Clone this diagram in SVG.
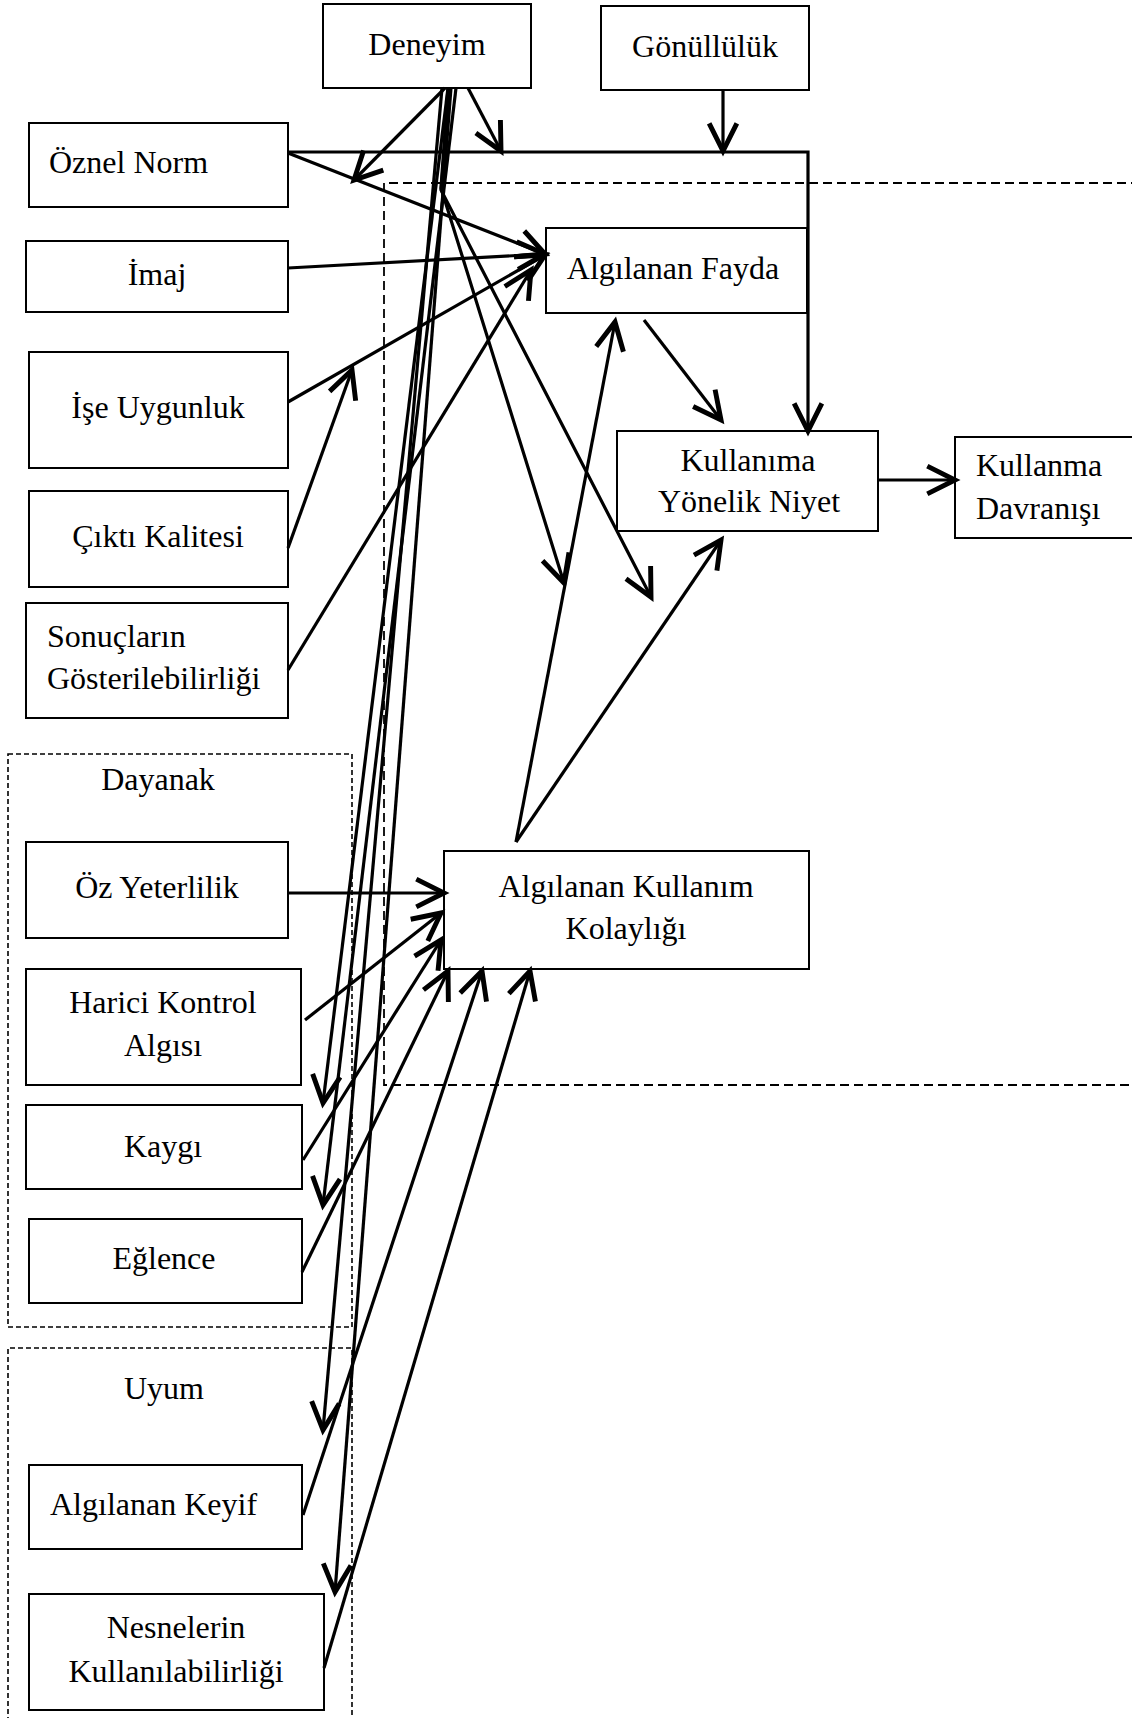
<svg xmlns="http://www.w3.org/2000/svg" width="1132" height="1718" viewBox="0 0 1132 1718">
  <style>
    .box { fill: #fff; stroke: #000; stroke-width: 2; }
    .grp { fill: none; stroke: #000; stroke-width: 1.6; stroke-dasharray: 5 3; }
    .frame { fill: none; stroke: #000; stroke-width: 1.8; stroke-dasharray: 9 5; }
    .lbl { font-family: "Liberation Serif", "Times New Roman", serif; font-size: 32px; fill: #000; }
    .c { text-anchor: middle; }
    .edge { fill: none; stroke: #000; stroke-width: 3.2; marker-end: url(#arr); }
  </style>
  <defs>
    <marker id="arr" markerUnits="userSpaceOnUse" markerWidth="40" markerHeight="40" viewBox="-22 -12 26 24" refX="0" refY="0" orient="auto" overflow="visible">
      <path d="M-18,-9 L0,0 L-18,9" fill="none" stroke="#000" stroke-width="3.2" stroke-linejoin="miter"/>
    </marker>
  </defs>
  <rect width="1132" height="1718" fill="#fff"/>

  <!-- dashed frames -->
  <path class="frame" d="M1140,183 H384 V1085 H1140"/>
  <rect class="grp" x="8" y="754" width="344" height="573"/>
  <path class="grp" d="M8,1730 V1348 H352 V1730"/>

  <!-- nodes -->
  <g id="deneyim"><rect class="box" x="323" y="4" width="208" height="84"/><text class="lbl c" x="427" y="55">Deneyim</text></g>
  <g id="gonulluluk"><rect class="box" x="601" y="6" width="208" height="84"/><text class="lbl c" x="705" y="57">Gönüllülük</text></g>
  <g id="oznel-norm"><rect class="box" x="29" y="123" width="259" height="84"/><text class="lbl" x="49" y="173">Öznel Norm</text></g>
  <g id="imaj"><rect class="box" x="26" y="241" width="262" height="71"/><text class="lbl c" x="157" y="285">İmaj</text></g>
  <g id="ise-uygunluk"><rect class="box" x="29" y="352" width="259" height="116"/><text class="lbl c" x="158" y="418">İşe Uygunluk</text></g>
  <g id="cikti-kalitesi"><rect class="box" x="29" y="491" width="259" height="96"/><text class="lbl c" x="158" y="547">Çıktı Kalitesi</text></g>
  <g id="sonuclarin"><rect class="box" x="26" y="603" width="262" height="115"/><text class="lbl" x="47" y="647">Sonuçların</text><text class="lbl" x="47" y="689">Gösterilebilirliği</text></g>
  <g id="dayanak-baslik"><text class="lbl c" x="158" y="790">Dayanak</text></g>
  <g id="oz-yeterlilik"><rect class="box" x="26" y="842" width="262" height="96"/><text class="lbl c" x="157" y="898">Öz Yeterlilik</text></g>
  <g id="harici-kontrol"><rect class="box" x="26" y="969" width="275" height="116"/><text class="lbl c" x="163" y="1013">Harici Kontrol</text><text class="lbl c" x="163" y="1056">Algısı</text></g>
  <g id="kaygi"><rect class="box" x="26" y="1105" width="276" height="84"/><text class="lbl c" x="163" y="1157">Kaygı</text></g>
  <g id="eglence"><rect class="box" x="29" y="1219" width="273" height="84"/><text class="lbl c" x="164" y="1269">Eğlence</text></g>
  <g id="uyum-baslik"><text class="lbl c" x="164" y="1399">Uyum</text></g>
  <g id="algilanan-keyif"><rect class="box" x="29" y="1465" width="273" height="84"/><text class="lbl" x="50" y="1515">Algılanan Keyif</text></g>
  <g id="nesnelerin"><rect class="box" x="29" y="1594" width="295" height="116"/><text class="lbl c" x="176" y="1638">Nesnelerin</text><text class="lbl c" x="176" y="1682">Kullanılabilirliği</text></g>
  <g id="algilanan-fayda"><rect class="box" x="546" y="228" width="261" height="85"/><text class="lbl c" x="673" y="279">Algılanan Fayda</text></g>
  <g id="niyet"><rect class="box" x="617" y="431" width="261" height="100"/><text class="lbl c" x="748" y="471">Kullanıma</text><text class="lbl c" x="749" y="512">Yönelik Niyet</text></g>
  <g id="davranis"><rect class="box" x="955" y="437" width="190" height="101"/><text class="lbl" x="976" y="476">Kullanma</text><text class="lbl" x="976" y="519">Davranışı</text></g>
  <g id="kolaylik"><rect class="box" x="444" y="851" width="365" height="118"/><text class="lbl c" x="626" y="897">Algılanan Kullanım</text><text class="lbl c" x="626" y="939">Kolaylığı</text></g>

  <!-- connectors -->
  <g id="connectors">
    <path class="edge" d="M288,152 H808 V431"/>
    <path class="edge" d="M723,90 V151"/>
    <path class="edge" d="M468,88 L501,151"/>
    <path class="edge" d="M445,88 L354,180"/>
    <path class="edge" d="M288,153 L545,254"/>
    <path class="edge" d="M288,268 L545,254"/>
    <path class="edge" d="M288,402 L545,255"/>
    <path class="edge" d="M288,548 L352,370"/>
    <path class="edge" d="M288,670 L531,270"/>
    <path class="edge" d="M448,88 L441,188 L564,583"/>
    <path class="edge" d="M450,88 L441,190 L651,597"/>
    <path class="edge" d="M448,88 L323,1103"/>
    <path class="edge" d="M456,88 L323,1205"/>
    <path class="edge" d="M442,88 L323,1430"/>
    <path class="edge" d="M451,88 L335,1592"/>
    <path class="edge" d="M644,320 L721,420"/>
    <path class="edge" d="M516,842 L615,322"/>
    <path class="edge" d="M516,842 L721,540"/>
    <path class="edge" d="M878,480 L955,480"/>
    <path class="edge" d="M288,893 L444,893"/>
    <path class="edge" d="M305,1020 L441,913"/>
    <path class="edge" d="M303,1160 L441,940"/>
    <path class="edge" d="M302,1272 L448,971"/>
    <path class="edge" d="M303,1515 L482,971"/>
    <path class="edge" d="M324,1668 L530,971"/>
  </g>
</svg>
